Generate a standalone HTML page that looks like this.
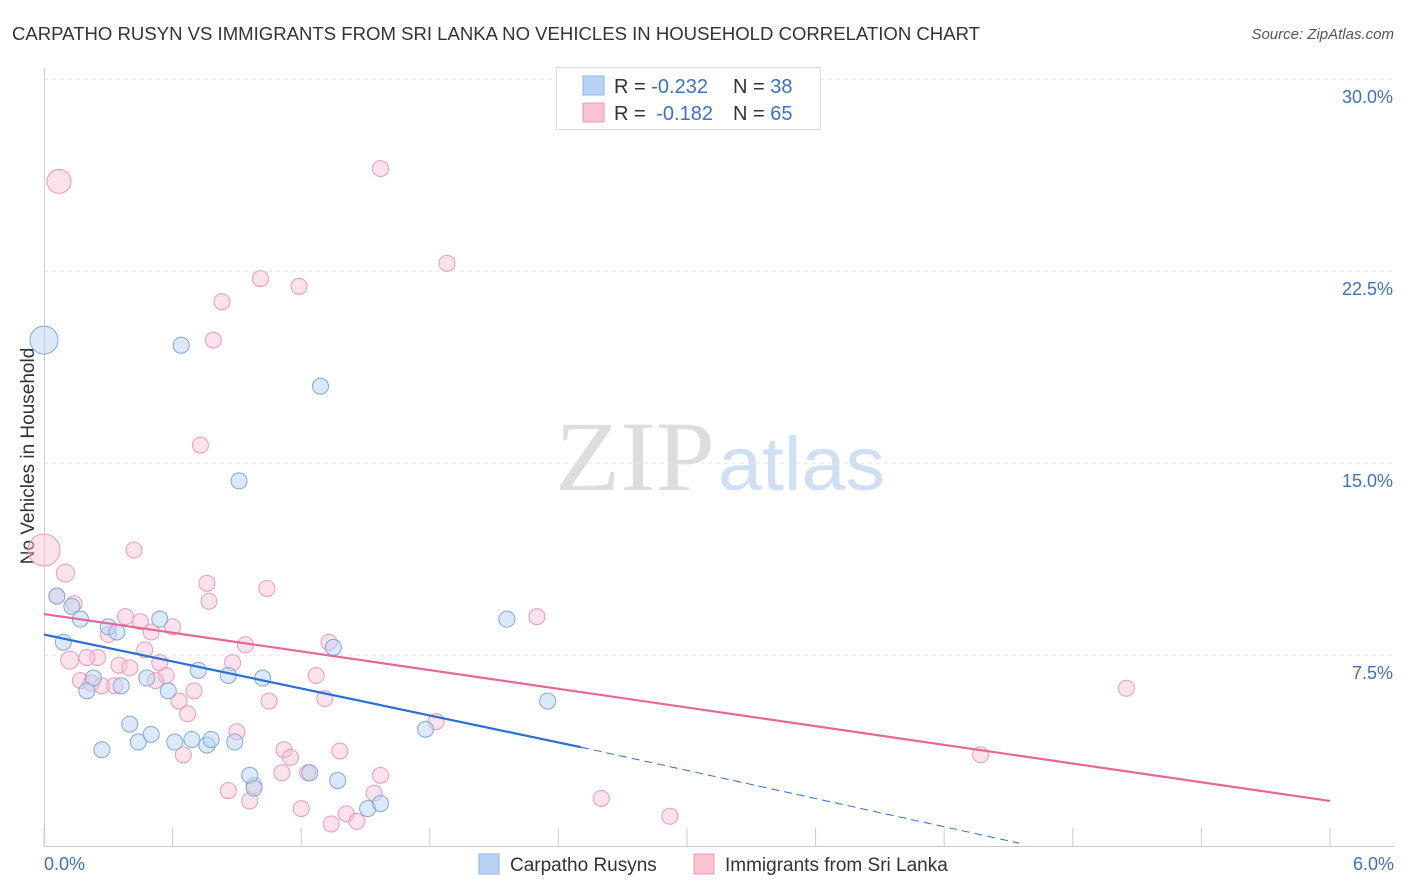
<!DOCTYPE html>
<html><head><meta charset="utf-8"><style>
body{margin:0;background:#fff;font-family:"Liberation Sans",sans-serif;}
svg{display:block}
</style></head><body>
<svg id="chart" width="1406" height="892" xmlns="http://www.w3.org/2000/svg">
<text x="12" y="40" font-size="18" fill="#333" textLength="968" lengthAdjust="spacingAndGlyphs">CARPATHO RUSYN VS IMMIGRANTS FROM SRI LANKA NO VEHICLES IN HOUSEHOLD CORRELATION CHART</text>
<text x="1394" y="39" font-size="15" fill="#555" text-anchor="end" font-style="italic">Source: ZipAtlas.com</text>
<text x="555" y="490" font-size="100" fill="#ddd" textLength="160" lengthAdjust="spacingAndGlyphs" font-family="Liberation Serif">ZIP</text>
<text x="718" y="490" font-size="76" fill="#cfe0f5" textLength="167" lengthAdjust="spacingAndGlyphs">atlas</text>
<text x="34" y="456" font-size="19" fill="#333" text-anchor="middle" transform="rotate(-90 34 456)">No Vehicles in Household</text>
<g id="grid"></g><g id="pts"></g><g id="lines"></g>
<g>
<rect x="556.5" y="67.5" width="264" height="62" fill="#fff" stroke="#ddd"/>
<rect x="583" y="76" width="21" height="19" fill="#b9d3f5" stroke="#8fb5e8"/>
<rect x="583" y="103" width="21" height="19" fill="#f9c3d3" stroke="#ee9ab5"/>
<text x="614" y="93" font-size="20" fill="#333">R = <tspan fill="#3a70cc">-0.232</tspan><tspan x="733">N = </tspan><tspan fill="#3a70cc">38</tspan></text>
<text x="614" y="120" font-size="20" fill="#333">R = <tspan fill="#3a70cc" dx="5">-0.182</tspan><tspan x="733">N = </tspan><tspan fill="#3a70cc">65</tspan></text>
</g>
<g>
<rect x="479" y="854" width="20" height="20" fill="#b9d3f5" stroke="#8fb5e8"/>
<text x="510" y="871" font-size="19" fill="#333">Carpatho Rusyns</text>
<rect x="694" y="854" width="20" height="20" fill="#f9c3d3" stroke="#ee9ab5"/>
<text x="725" y="871" font-size="19" fill="#333">Immigrants from Sri Lanka</text>
</g>
</svg>
<script>
const yTicks=[7.5,15.0,22.5,30.0];
const xTickLabels=["0.0%","6.0%"];
const blueX=[0,0.64,1.29,0.91,0.06,0.13,0.17,0.09,0.30,0.34,0.54,2.16,1.35,0.23,0.36,0.20,0.48,0.58,0.72,0.86,1.02,2.35,0.40,0.27,0.44,0.50,0.61,0.69,0.76,0.78,0.89,1.78,0.96,0.98,1.24,1.37,1.51,1.57];
const blueY=[19.8,19.6,18.0,14.3,9.8,9.4,8.9,8.0,8.6,8.4,8.9,8.9,7.8,6.6,6.3,6.1,6.6,6.1,6.9,6.7,6.6,5.7,4.8,3.8,4.1,4.4,4.1,4.2,3.98,4.2,4.1,4.6,2.8,2.3,2.9,2.6,1.5,1.7];
const blueR=[14,8,8,8,8,8,8,8,8,8,8,8,8,8,8,8,8,8,8,8,8,8,8,8,8,8,8,8,8,8,8,8,8,8,8,8,8,8];
const pinkX=[0.07,1.57,1.88,1.01,1.19,0.83,0.79,0.73,0,0.42,0.10,0.76,1.04,0.06,0.14,0.77,0.38,0.45,0.50,0.60,2.30,0.30,1.33,0.94,0.47,0.25,0.20,0.12,0.54,0.88,0.35,0.40,0.57,1.27,0.17,0.22,0.27,0.33,0.52,0.70,5.05,0.63,1.05,1.31,0.67,0.90,1.83,0.65,1.12,1.15,1.38,4.37,1.11,1.23,1.57,0.86,0.96,1.54,2.60,1.20,1.41,1.46,1.34,2.92,0.98];
const pinkY=[26.0,26.5,22.8,22.2,21.9,21.3,19.8,15.7,11.6,11.6,10.7,10.3,10.1,9.8,9.5,9.6,9.0,8.8,8.4,8.6,9.0,8.3,8.0,7.9,7.7,7.4,7.4,7.3,7.2,7.2,7.1,7.0,6.7,6.7,6.5,6.4,6.3,6.3,6.5,6.1,6.2,5.7,5.7,5.8,5.2,4.5,4.9,3.6,3.8,3.5,3.75,3.6,2.9,2.9,2.8,2.2,1.8,2.1,1.9,1.5,1.3,1.0,0.9,1.2,2.4];
const pinkR=[12,8,8,8,8,8,8,8,16,8,9,8,8,8,8,8,8,8,8,8,8,8,8,8,8,8,8,9,8,8,8,8,8,8,8,8,8,8,8,8,8,8,8,8,8,8,8,8,8,8,8,8,8,8,8,8,8,8,8,8,8,8,8,8,8];
const blueLine=[[0,8.3],[2.505,3.9],[4.55,0.15]];
const pinkLine=[[0,9.1],[6.0,1.8]];
const X=v=>44+v*214.33, Y=v=>847-v*25.6;
const NS="http://www.w3.org/2000/svg";
function mk(t,a,p){const e=document.createElementNS(NS,t);for(const k in a)e.setAttribute(k,a[k]);p.appendChild(e);return e;}
const grid=document.getElementById('grid');
yTicks.forEach(t=>{
 const l=mk('line',{x1:44,x2:1394,y1:Y(t),y2:Y(t),stroke:'#e3e3e3','stroke-dasharray':'4,4'},grid);
 
 
 const tx=mk('text',{x:1393,y:Y(t)+24,'font-size':18,fill:'#3a70cc','text-anchor':'end'},grid);
 tx.textContent=t.toFixed(1)+'%';
 
 
});
mk('line',{x1:44.5,x2:44.5,y1:68,y2:847,stroke:'#ccc'},grid);
mk('line',{x1:44,x2:1394,y1:846.5,y2:846.5,stroke:'#ccc'},grid);
for(let i=0;i<=10;i++){const x=X(i*0.6);const t=mk('line',{x1:x,x2:x,y1:828,y2:847,stroke:'#ccc'},grid);}
[[0,'start',44],[6,'end',1394]].forEach((d,i)=>{const t=mk('text',{x:d[2],y:870,'font-size':18,fill:'#3a70cc','text-anchor':d[1]},grid);t.textContent=xTickLabels[i];});
const pts=document.getElementById('pts');
pinkX.forEach((v,i)=>{const c=mk('circle',{cx:X(v),cy:Y(pinkY[i]),r:pinkR[i],fill:'rgba(249,190,208,0.45)',stroke:'#ef9ab6','stroke-width':1},pts);
 
 });
blueX.forEach((v,i)=>{const c=mk('circle',{cx:X(v),cy:Y(blueY[i]),r:blueR[i],fill:'rgba(185,211,245,0.5)',stroke:'#7fa8e0','stroke-width':1},pts);
 
 });
const lines=document.getElementById('lines');
let l=mk('line',{x1:X(pinkLine[0][0]),y1:Y(pinkLine[0][1]),x2:X(pinkLine[1][0]),y2:Y(pinkLine[1][1]),stroke:'#e8679a','stroke-width':2.2},lines);


l=mk('line',{x1:X(blueLine[0][0]),y1:Y(blueLine[0][1]),x2:X(blueLine[1][0]),y2:Y(blueLine[1][1]),stroke:'#2a6fd6','stroke-width':2.2},lines);


l=mk('line',{x1:X(blueLine[1][0]),y1:Y(blueLine[1][1]),x2:X(blueLine[2][0]),y2:Y(blueLine[2][1]),stroke:'#2a6fd6','stroke-width':1,'stroke-dasharray':'8,5'},lines);


</script>
</body></html>
